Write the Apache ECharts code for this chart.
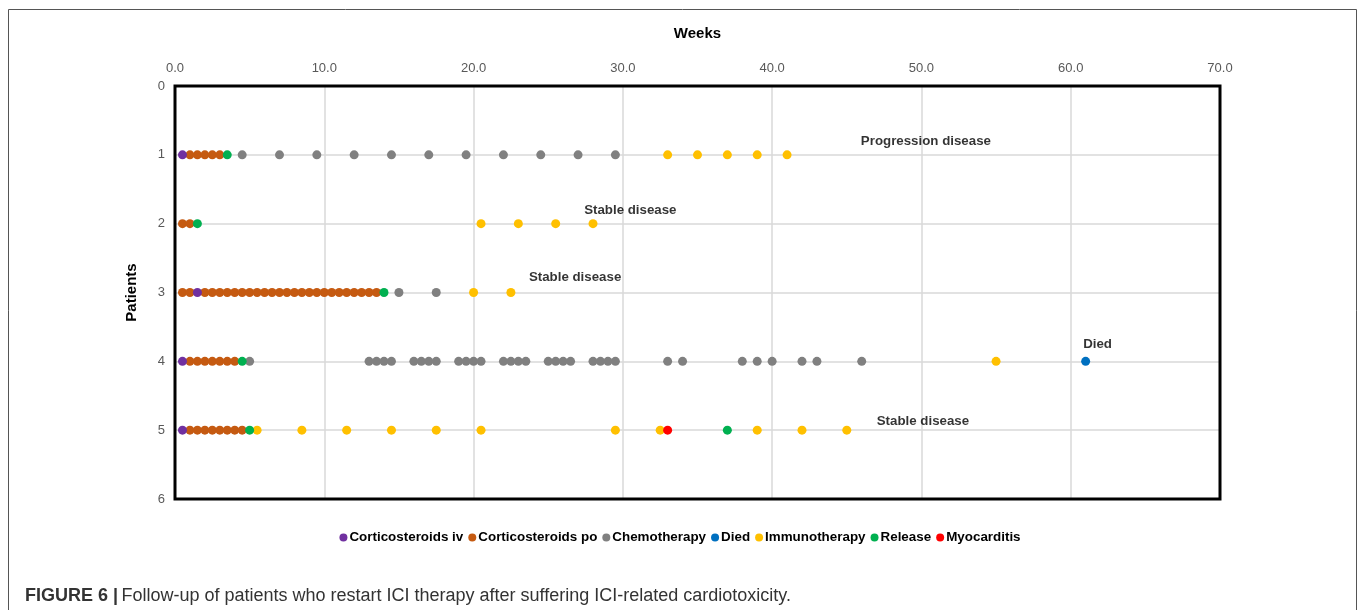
<!DOCTYPE html>
<html>
<head>
<meta charset="utf-8">
<script src="https://cdn.jsdelivr.net/npm/echarts@6/dist/echarts.min.js"></script>
<style>html,body{margin:0;padding:0;background:#fff}#c{width:1360px;height:610px}</style>
</head>
<body>
<div id="c"></div>
<script>
// Each point: [week, patient]
const corticoIv = [[0.5,1],[1.5,3],[0.5,4],[0.5,5]];
const corticoPo = [
  [1,1],[1.5,1],[2,1],[2.5,1],[3,1],
  [0.5,2],[1,2],
  [0.5,3],[1,3],[2,3],[2.5,3],[3,3],[3.5,3],[4,3],[4.5,3],[5,3],[5.5,3],[6,3],[6.5,3],[7,3],[7.5,3],[8,3],[8.5,3],[9,3],[9.5,3],[10,3],[10.5,3],[11,3],[11.5,3],[12,3],[12.5,3],[13,3],[13.5,3],
  [1,4],[1.5,4],[2,4],[2.5,4],[3,4],[3.5,4],[4,4],
  [1,5],[1.5,5],[2,5],[2.5,5],[3,5],[3.5,5],[4,5],[4.5,5]
];
const chemo = [
  [4.5,1],[7,1],[9.5,1],[12,1],[14.5,1],[17,1],[19.5,1],[22,1],[24.5,1],[27,1],[29.5,1],
  [15,3],[17.5,3],
  [5,4],[13,4],[13.5,4],[14,4],[14.5,4],[16,4],[16.5,4],[17,4],[17.5,4],[19,4],[19.5,4],[20,4],[20.5,4],
  [22,4],[22.5,4],[23,4],[23.5,4],[25,4],[25.5,4],[26,4],[26.5,4],[28,4],[28.5,4],[29,4],[29.5,4],
  [33,4],[34,4],[38,4],[39,4],[40,4],[42,4],[43,4],[46,4]
];
const died = [[61,4]];
const immuno = [
  [33,1],[35,1],[37,1],[39,1],[41,1],
  [20.5,2],[23,2],[25.5,2],[28,2],
  [20,3],[22.5,3],
  [55,4],
  [5.5,5],[8.5,5],[11.5,5],[14.5,5],[17.5,5],[20.5,5],[29.5,5],[32.5,5],[39,5],[42,5],[45,5]
];
const release = [[3.5,1],[1.5,2],[14,3],[4.5,4],[5,5],[37,5]];
const myocarditis = [[33,5]];
const annotations = [
  [50.3,0.8,'Progression disease'],
  [30.5,1.8,'Stable disease'],
  [26.8,2.78,'Stable disease'],
  [61.8,3.76,'Died'],
  [50.1,4.87,'Stable disease']
];
const legendNames = ['Corticosteroids iv','Corticosteroids po','Chemotherapy','Died','Immunotherapy','Release','Myocarditis'];
const xTicks = {min:0, max:70, interval:10};
const yTicks = {min:0, max:6, interval:1};

const colors = {
  'Corticosteroids iv':'#7030A0',
  'Corticosteroids po':'#C55A11',
  'Chemotherapy':'#808080',
  'Died':'#0070C0',
  'Immunotherapy':'#FFC000',
  'Release':'#00B050',
  'Myocarditis':'#FF0000'
};
const seriesData = {
  'Corticosteroids iv':corticoIv,
  'Corticosteroids po':corticoPo,
  'Chemotherapy':chemo,
  'Died':died,
  'Immunotherapy':immuno,
  'Release':release,
  'Myocarditis':myocarditis
};
const drawOrder = ['Corticosteroids po','Corticosteroids iv','Chemotherapy','Immunotherapy','Release','Myocarditis','Died'];
const series = drawOrder.map((n,i)=>({
  name:n, type:'scatter', data:seriesData[n], symbolSize:9, z:2+i,
  itemStyle:{color:colors[n], opacity:1}, emphasis:{disabled:true}
}));
series.push({
  name:'annot', type:'scatter', symbolSize:0, silent:true, z:20,
  data:annotations.map(a=>({value:[a[0],a[1]], label:{formatter:a[2]}})),
  label:{show:true, position:'inside', color:'#000', fontWeight:'bold', fontSize:13.3, fontFamily:'Liberation Sans, Arial'}
});

const G = {left:175, top:86, right:140, bottom:111};
const chart = echarts.init(document.getElementById('c'));
chart.setOption({
  animation:false,
  backgroundColor:'#fff',
  color:legendNames.map(n=>colors[n]),
  grid:{left:G.left, right:G.right, top:G.top, bottom:G.bottom, show:false},
  legend:{
    data:legendNames, top:526, left:'center', icon:'circle', itemWidth:8, itemHeight:8, itemGap:5,
    textStyle:{color:'#000', fontWeight:'bold', fontSize:13.4, fontFamily:'Liberation Sans, Arial', padding:[0,0,0,-3]}
  },
  xAxis:{
    type:'value', position:'top', min:xTicks.min, max:xTicks.max, interval:xTicks.interval,
    name:'Weeks', nameLocation:'middle', nameGap:45,
    nameTextStyle:{color:'#000', fontWeight:'bold', fontSize:15, fontFamily:'Liberation Sans, Arial'},
    axisLine:{show:false}, axisTick:{show:false},
    axisLabel:{formatter:v=>v.toFixed(1), color:'#595959', fontSize:13, margin:11, fontFamily:'Liberation Sans, Arial'},
    splitLine:{show:true, lineStyle:{color:'#d9d9d9', width:1.5}}
  },
  yAxis:{
    type:'value', inverse:true, min:yTicks.min, max:yTicks.max, interval:yTicks.interval,
    name:'Patients', nameLocation:'middle', nameGap:36, nameRotate:90,
    nameTextStyle:{color:'#000', fontWeight:'bold', fontSize:15, fontFamily:'Liberation Sans, Arial'},
    axisLine:{show:false}, axisTick:{show:false},
    axisLabel:{color:'#595959', fontSize:13, margin:10, fontFamily:'Liberation Sans, Arial'},
    splitLine:{show:true, lineStyle:{color:'#d9d9d9', width:1.5}}
  },
  graphic:[
    {type:'rect', shape:{x:8.5, y:9.5, width:1348, height:640}, style:{fill:'none', stroke:'#555', lineWidth:1}, silent:true, z:-1},
    {type:'rect', shape:{x:G.left, y:G.top, width:1360-G.left-G.right, height:610-G.top-G.bottom},
      style:{fill:'none', stroke:'#000', lineWidth:3}, silent:true, z:50},
    {type:'text', left:25, top:587, style:{
      text:'{b|FIGURE 6 |} {r|Follow-up of patients who restart ICI therapy after suffering ICI-related cardiotoxicity.}',
      rich:{
        b:{fontWeight:'bold', fontSize:18, fill:'#333', fontFamily:'Liberation Sans, Arial'},
        r:{fontSize:18, fill:'#333', fontFamily:'Liberation Sans, Arial'}
      }
    }}
  ],
  series:series
});
</script>
</body>
</html>
